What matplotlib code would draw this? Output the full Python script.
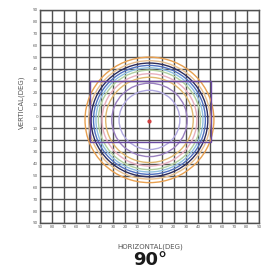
import numpy as np
import matplotlib.pyplot as plt
from matplotlib.patches import Circle, Rectangle

# tick values (deg)
ticks = list(range(-90, 91, 10))

# concentric beam contours: radius (deg) and colour
radii = [53, 50, 48, 46, 44, 42, 39, 36, 31, 25]
colors = ['#e8a050', '#e8c090', '#2c2c5c', '#5070c0', '#90c0e0',
          '#b0d0a0', '#e8b0c0', '#e0b870', '#9a80c0', '#b0a8e0']
center = (0, -3)

# purple box
box_x = [-49, 51]
box_y = [-22, 30]

# centre dot
dot = (0, -4)

fig = plt.figure(figsize=(2.65, 2.80), dpi=100)
ax = fig.add_axes([0.151, 0.204, 0.826, 0.761])

for r, c in zip(radii, colors):
    ax.add_patch(Circle(center, r, fill=False, edgecolor=c, linewidth=1.0, zorder=3))

ax.add_patch(Rectangle((box_x[0], box_y[0]), box_x[1] - box_x[0], box_y[1] - box_y[0],
                       fill=False, edgecolor='#6a4aa0', linewidth=1.0, zorder=3))
ax.plot([dot[0]], [dot[1]], 'o', color='#d04040', markersize=2, zorder=4)

ax.set_xlim(-90, 90)
ax.set_ylim(-90, 90)
ax.set_xticks(ticks)
ax.set_yticks(ticks)
ax.set_xticklabels([str(abs(t)) for t in ticks], fontsize=3, color='#606060')
ax.set_yticklabels([str(abs(t)) for t in ticks], fontsize=3, color='#606060')
ax.tick_params(length=0, pad=1.5)
ax.grid(True, color='#505050', linewidth=1.0)
ax.set_axisbelow(True)
for s in ax.spines.values():
    s.set_color('#505050')
    s.set_linewidth(1.0)

fig.text(22 / 265, 1 - 102 / 280, 'VERTICAL(DEG)', rotation=90, ha='center', va='center',
         fontsize=5, color='#555555')
fig.text(150 / 265, 1 - 247 / 280, 'HORIZONTAL(DEG)', ha='center', va='center',
         fontsize=5, color='#555555')
fig.text(150 / 265, 1 - 260 / 280, '90°', ha='center', va='center',
         fontsize=13, fontweight='bold', color='#1a1a1a')

fig.savefig('out.png', dpi=100)
